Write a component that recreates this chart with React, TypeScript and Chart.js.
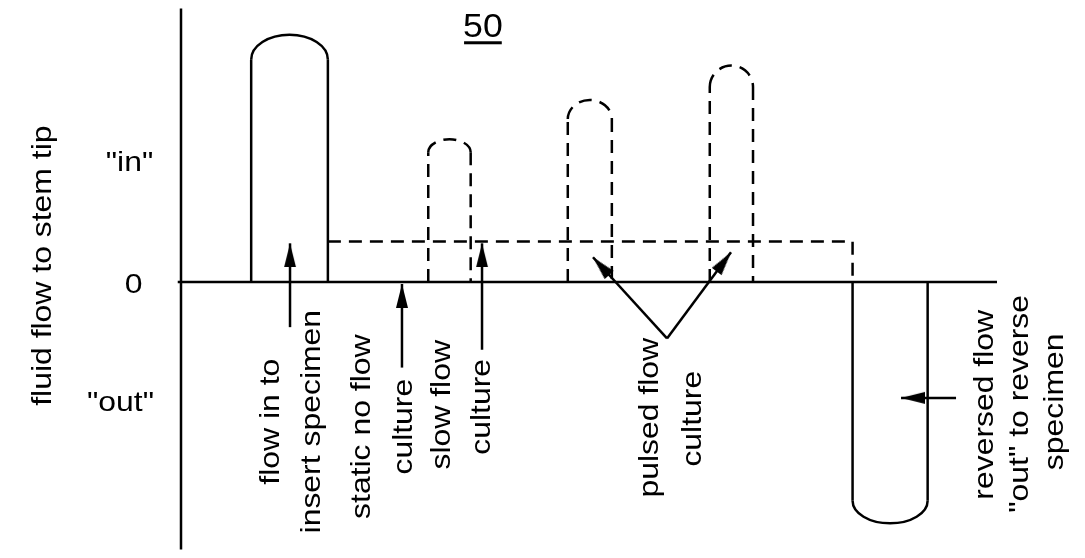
import React, { useEffect, useRef } from "react";
import { Chart, registerables } from "chart.js";

Chart.register(...registerables);

// ---- data (time in arbitrary units 0..100, flow: "in" = +1, "out" = -1) ----
const solidPulseEdges = [8.6, 18.0];
const solidPulseShoulder = 1.87;
const solidPulsePeak = 2.08;

const slowFlowStart = 18.0;
const slowFlowEnd = 82.3;
const slowFlowLevel = 0.34;

const dashedPulseLeft = [30.3, 47.4, 64.8];
const dashedPulseRight = [35.5, 52.8, 70.1];
const dashedPulseShoulder = [1.09, 1.37, 1.64];
const dashedPulsePeak = [1.2, 1.53, 1.82];

const reversePulseEdges = [82.3, 91.5];
const reversePulseShoulder = -1.84;
const reversePulsePeak = -2.03;

const arrowTailX = [13.36, 27.08, 36.89, 59.56, 59.56, 94.98];
const arrowTailY = [-0.38, -0.72, -0.57, -0.475, -0.475, -0.975];
const arrowTipX = [13.36, 27.08, 36.89, 50.49, 67.4, 88.24];
const arrowTipY = [0.325, -0.017, 0.325, 0.208, 0.25, -0.975];

const yTickValues = [1, 0, -1];
const yTickLabels = ['"in"', "0", '"out"'];
const yAxisTitle = "fluid flow to stem tip";
const figureNumber = "50";

const noteTexts = [
  "flow in to",
  "insert specimen",
  "static no flow",
  "culture",
  "slow flow",
  "culture",
  "pulsed flow",
  "culture",
  "reversed flow",
  '"out" to reverse',
  "specimen",
];

// ---- layout (positions in data units, styles) ----
const X_MIN = 0;
const X_MAX = 100;
const Y_MIN = -2.25;
const Y_MAX = 2.3;
const LW = 2.5;
const DASH = [13, 8];
const FONT = "'Liberation Sans', Arial, sans-serif";
const TEXT_SIZE = 28;
const STRETCH = 1.14;

const tickLabelX = [-6.31, -5.82, -7.41];
const tickLabelYShift = [0, -0.025, -0.017];
const titlePos = { x: -16.9, y: 0.1375 };
const figNumPos = { x: 37.0, y: 2.058 };
const noteX = [11.09, 16.05, 22.24, 27.33, 31.99, 36.89, 57.48, 62.75, 98.53, 102.82, 107.11];
const noteY = [-1.175, -1.175, -1.217, -1.217, -1.033, -1.05, -1.142, -1.15, -1.033, -1.025, -1.008];

function makeArrowHead(): HTMLCanvasElement {
  const L = 24;
  const W = 12;
  const c = document.createElement("canvas");
  c.width = W + 2;
  c.height = 2 * L;
  const g = c.getContext("2d")!;
  g.fillStyle = "#000";
  g.beginPath();
  g.moveTo(c.width / 2, L);
  g.lineTo(c.width / 2 + W / 2, 2 * L);
  g.lineTo(c.width / 2 - W / 2, 2 * L);
  g.closePath();
  g.fill();
  return c;
}

function pulseData(l: number, r: number, shoulder: number) {
  return [
    { x: l, y: 0 },
    { x: l, y: shoulder },
    { x: r, y: shoulder },
    { x: r, y: 0 },
  ];
}

const hideTop = {
  borderColor: (c: any) => (c.p0DataIndex === 1 ? "rgba(0,0,0,0)" : "#000"),
};

const capPlugin = {
  id: "caps",
  afterDatasetsDraw(chart: any) {
    const { ctx } = chart;
    const xs = chart.scales.x;
    const ys = chart.scales.y;
    const drawCap = (l: number, r: number, shoulder: number, peak: number, dashed: boolean) => {
      const xl = xs.getPixelForValue(l);
      const xr = xs.getPixelForValue(r);
      const yS = ys.getPixelForValue(shoulder);
      const yP = ys.getPixelForValue(peak);
      const cx = (xl + xr) / 2;
      const rx = (xr - xl) / 2;
      const ry = Math.abs(yP - yS);
      ctx.save();
      ctx.lineWidth = LW;
      ctx.strokeStyle = "#000";
      ctx.setLineDash(dashed ? DASH : []);
      ctx.beginPath();
      if (yP < yS) ctx.ellipse(cx, yS, rx, ry, 0, Math.PI, 2 * Math.PI);
      else ctx.ellipse(cx, yS, rx, ry, 0, 0, Math.PI);
      ctx.stroke();
      ctx.restore();
    };
    drawCap(solidPulseEdges[0], solidPulseEdges[1], solidPulseShoulder, solidPulsePeak, false);
    for (let i = 0; i < dashedPulseLeft.length; i++) {
      drawCap(dashedPulseLeft[i], dashedPulseRight[i], dashedPulseShoulder[i], dashedPulsePeak[i], true);
    }
    drawCap(reversePulseEdges[0], reversePulseEdges[1], reversePulseShoulder, reversePulsePeak, false);
  },
};

function drawText(
  ctx: CanvasRenderingContext2D,
  s: string,
  px: number,
  py: number,
  rot: number,
  size: number,
  stretch: number,
  baseline: CanvasTextBaseline
) {
  ctx.save();
  ctx.translate(px, py);
  ctx.rotate(rot);
  ctx.scale(stretch, 1);
  ctx.font = `${size}px ${FONT}`;
  ctx.fillStyle = "#000";
  ctx.textAlign = "center";
  ctx.textBaseline = baseline;
  ctx.fillText(s, 0, 0);
  ctx.restore();
}

const labelPlugin = {
  id: "labels",
  afterDraw(chart: any) {
    const { ctx } = chart;
    const xs = chart.scales.x;
    const ys = chart.scales.y;
    // tick labels
    for (let i = 0; i < yTickValues.length; i++) {
      drawText(
        ctx,
        yTickLabels[i],
        xs.getPixelForValue(tickLabelX[i]),
        ys.getPixelForValue(yTickValues[i] + tickLabelYShift[i]),
        0,
        TEXT_SIZE,
        STRETCH,
        "middle"
      );
    }
    // axis title
    drawText(
      ctx,
      yAxisTitle,
      xs.getPixelForValue(titlePos.x),
      ys.getPixelForValue(titlePos.y),
      -Math.PI / 2,
      TEXT_SIZE,
      STRETCH,
      "middle"
    );
    // figure number, underlined
    const fx = xs.getPixelForValue(figNumPos.x);
    const fy = ys.getPixelForValue(figNumPos.y);
    drawText(ctx, figureNumber, fx, fy, 0, 34, 1.05, "alphabetic");
    ctx.save();
    ctx.font = `34px ${FONT}`;
    const w = ctx.measureText(figureNumber).width * 1.05;
    ctx.fillStyle = "#000";
    ctx.fillRect(fx - w / 2 + 1, fy + 4, w - 2, 3);
    ctx.restore();
    // notes
    for (let i = 0; i < noteTexts.length; i++) {
      drawText(
        ctx,
        noteTexts[i],
        xs.getPixelForValue(noteX[i]),
        ys.getPixelForValue(noteY[i]),
        -Math.PI / 2,
        TEXT_SIZE,
        STRETCH,
        "middle"
      );
    }
  },
};

export default function App() {
  const ref = useRef<HTMLCanvasElement | null>(null);

  useEffect(() => {
    if (!ref.current) return;
    const head = makeArrowHead();
    const base = {
      borderColor: "#000",
      borderWidth: LW,
      pointRadius: 0,
      fill: false,
      tension: 0,
      clip: false as const,
      showLine: true,
    };
    const datasets: any[] = [
      { ...base, label: "axis", data: [{ x: X_MIN, y: Y_MIN }, { x: X_MIN, y: Y_MAX }] },
      { ...base, label: "zero", data: [{ x: -0.4, y: 0 }, { x: X_MAX, y: 0 }] },
      {
        ...base,
        label: "insert",
        data: pulseData(solidPulseEdges[0], solidPulseEdges[1], solidPulseShoulder),
        segment: hideTop,
      },
      {
        ...base,
        label: "slow",
        borderDash: DASH,
        data: [
          { x: slowFlowStart, y: slowFlowLevel },
          { x: slowFlowEnd, y: slowFlowLevel },
          { x: slowFlowEnd, y: 0 },
        ],
      },
      ...dashedPulseLeft.map((l, i) => ({
        ...base,
        label: "pulse" + i,
        borderDash: DASH,
        data: pulseData(l, dashedPulseRight[i], dashedPulseShoulder[i]),
        segment: hideTop,
      })),
      {
        ...base,
        label: "reverse",
        data: pulseData(reversePulseEdges[0], reversePulseEdges[1], reversePulseShoulder),
        segment: hideTop,
      },
      ...arrowTailX.map((tx, i) => ({
        ...base,
        label: "arrow" + i,
        data: [
          { x: tx, y: arrowTailY[i] },
          { x: arrowTipX[i], y: arrowTipY[i] },
        ],
        pointRadius: [0, 6],
        pointStyle: head,
        pointRotation: (c: any) => {
          const xs = c.chart.scales.x;
          const ys = c.chart.scales.y;
          const dx = xs.getPixelForValue(arrowTipX[i]) - xs.getPixelForValue(tx);
          const dy = ys.getPixelForValue(arrowTipY[i]) - ys.getPixelForValue(arrowTailY[i]);
          return (Math.atan2(dx, -dy) * 180) / Math.PI;
        },
      })),
    ];

    const chart = new Chart(ref.current, {
      type: "line",
      data: { datasets },
      options: {
        animation: false,
        responsive: true,
        maintainAspectRatio: false,
        events: [],
        layout: { padding: { left: 181, right: 88, top: 8, bottom: 4 } },
        plugins: { legend: { display: false }, tooltip: { enabled: false } },
        scales: {
          x: { type: "linear", min: X_MIN, max: X_MAX, display: false },
          y: { type: "linear", min: Y_MIN, max: Y_MAX, display: false },
        },
      },
      plugins: [capPlugin, labelPlugin],
    });
    return () => chart.destroy();
  }, []);

  return (
    <div
      style={{
        position: "fixed",
        left: 0,
        top: 0,
        width: 1085,
        height: 558,
        background: "#fff",
      }}
    >
      <canvas ref={ref} />
    </div>
  );
}
